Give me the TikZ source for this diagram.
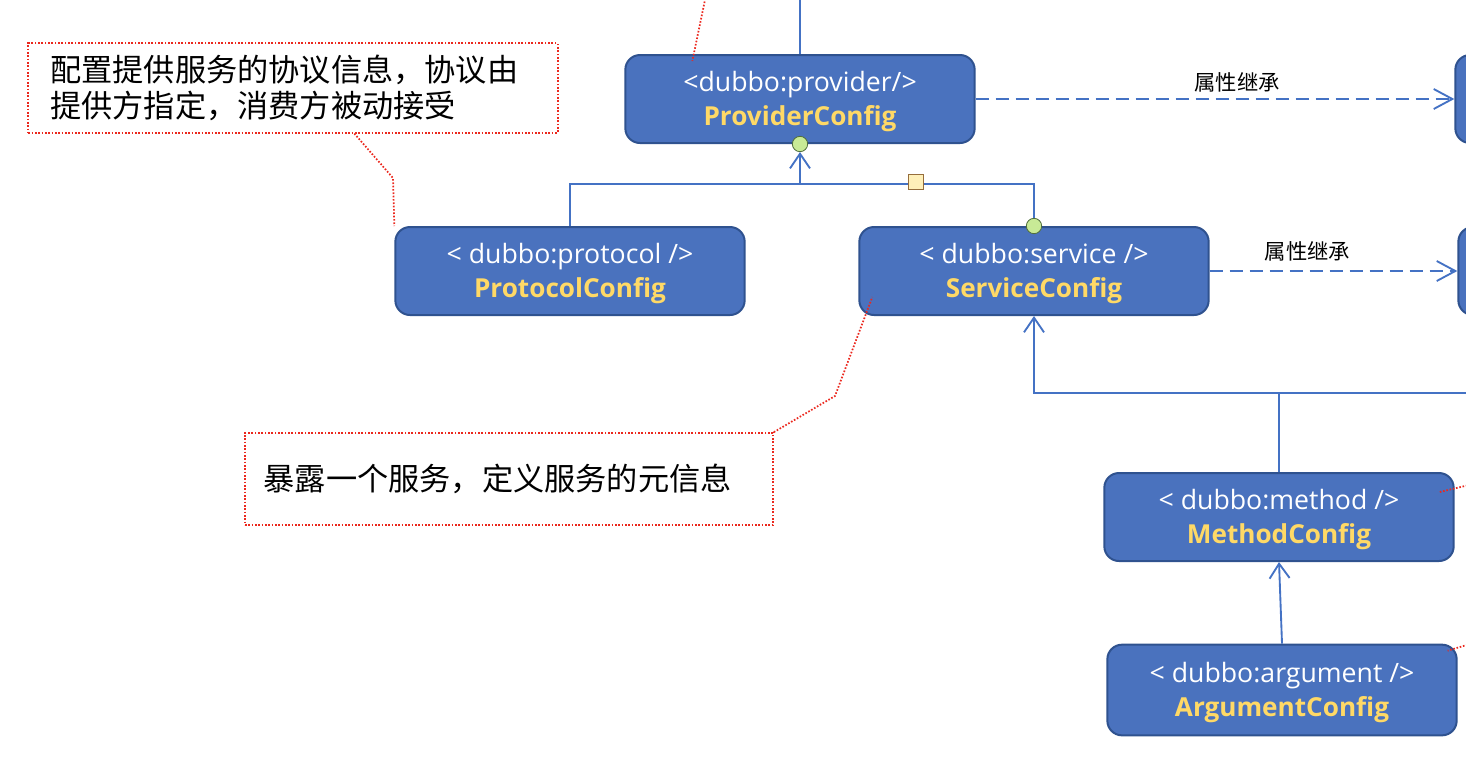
\documentclass[tikz,border=0pt]{standalone}
\usepackage{fontspec}
\setmainfont{Open Sans}
\newfontfamily\cjk{Noto Sans CJK SC}
\usetikzlibrary{arrows.meta}
\definecolor{boxblue}{RGB}{74,114,190}
\definecolor{boxedge}{RGB}{47,82,143}
\definecolor{linkblue}{RGB}{68,114,196}
\definecolor{gold}{RGB}{255,217,102}
\definecolor{greenball}{RGB}{200,234,150}
\definecolor{greenedge}{RGB}{80,110,60}
\definecolor{notepaper}{RGB}{255,240,185}
\definecolor{notebrown}{RGB}{150,110,60}
\definecolor{notered}{RGB}{235,40,30}

\newcommand{\cfgtext}[2]{\rule{0pt}{19pt}{\fontsize{20}{26}\selectfont #1}\\
  \textcolor{gold}{\fontsize{19.6}{26}\selectfont\bfseries #2}}

\tikzset{
  cfgbox/.style={draw=boxedge,fill=boxblue,line width=1.5pt,rounded corners=11pt,
                 minimum width=262pt,minimum height=66pt,align=center,text=white,
                 font=\fontsize{20}{26}\selectfont},
  partbox/.style={draw=boxedge,fill=boxblue,line width=1.5pt,rounded corners=11pt,
                  minimum width=262pt,minimum height=66pt},
  link/.style={linkblue,line width=1.4pt},
  barb/.style={-{Straight Barb[length=11pt,width=15pt]}},
  inherit/.style={linkblue,line width=1.4pt,dash pattern=on 10pt off 5pt,
                  -{Straight Barb[length=14pt,width=15pt]}},
  ball/.style={circle,draw=greenedge,fill=greenball,line width=0.6pt,
               minimum size=11.5pt,inner sep=0pt},
  marksq/.style={rectangle,draw=notebrown,fill=notepaper,line width=0.6pt,
                 minimum size=11pt,inner sep=0pt},
  note/.style={draw=notered,dash pattern=on 1.2pt off 1.3pt,line width=1.3pt,align=left,
               font=\cjk\fontsize{23.4}{26.5}\selectfont},
  pointer/.style={notered,dash pattern=on 1.2pt off 1.3pt,line width=1.3pt},
  tag/.style={font=\cjk\fontsize{16}{18}\selectfont,text=black}
}

\begin{document}
\begin{tikzpicture}[x=0.75pt,y=-0.75pt]

\useasboundingbox (0,0) rectangle (1466,772);
\clip (0,0) rectangle (1466,772);

% config boxes
\node [cfgbox] (provider) at (800,99) {\cfgtext{<dubbo:provider/>}{ProviderConfig}};
\node [cfgbox] (protocol) at (570,271) {\cfgtext{< dubbo:protocol />}{ProtocolConfig}};
\node [cfgbox] (service) at (1034,271) {\cfgtext{< dubbo:service />}{ServiceConfig}};
\node [cfgbox] (method) at (1279,517) {\cfgtext{< dubbo:method />}{MethodConfig}};
\node [cfgbox,minimum height=68pt] (argument) at (1282,690)
  {\cfgtext{< dubbo:argument />}{ArgumentConfig}};

% boxes cut off at the right edge
\node [partbox] (rightA) at (1630,99) {};
\node [partbox] (rightB) at (1633,271) {};

% free ends
\coordinate (offtop) at (800,-10);
\coordinate (join) at (800,184);
\coordinate (bus) at (1034,393);
\coordinate (offright) at (1490,393);

\draw [link] (provider.north) -- (offtop);
\draw [link] (protocol.north) |- (join);
\draw [link] (method.north) -- (method.north |- bus);
\draw [link,barb] (offright) -- (bus) -- (service.south);
\draw [link,barb] (argument.north) -- (method.south);

\node [ball] (ballP) at (provider.south) {};
\node [ball] (ballS) at (service.north) {};
\draw [link] (ballS) |- (join);
\draw [link,barb] (join) -- (ballP);
\node [marksq] (mark) at (916,182) {};

% inheritance
\draw [inherit] (provider.east) -- (rightA.west)
  node [tag,above=1pt,pos=0.546] {属性继承};
\draw [inherit] (service.east) -- (rightB.west)
  node [tag,above=3pt,pos=0.395] {属性继承};

% notes
\node [note,minimum width=397pt,minimum height=67pt,text width=364pt,inner xsep=16pt]
  (protonote) at (293,88)
  {配置提供服务的协议信息，协议由\\提供方指定，消费方被动接受};
\node [note,minimum width=396pt,minimum height=69pt,text width=368pt,inner xsep=14pt]
  (servicenote) at (509,479) {暴露一个服务，定义服务的元信息};

\coordinate (bendA) at (393,178);
\coordinate (bendB) at (835,396);
\coordinate (offnoteP) at (706,-5);
\coordinate (offnoteM) at (1490,480);
\coordinate (offnoteA) at (1490,638);

\draw [pointer] ([xshift=46pt]protonote.south) -- (bendA) -- (protocol.north west);
\draw [pointer] (servicenote.north east) -- (bendB)
  -- ([shift={(14,-19)}]service.south west);
\draw [pointer] (offnoteP) -- ([shift={(68,7)}]provider.north west);
\draw [pointer] (offnoteM) -- ([shift={(-15,-25)}]method.east);
\draw [pointer] (offnoteA) -- ([shift={(-10,7)}]argument.north east);

\end{tikzpicture}
\end{document}
